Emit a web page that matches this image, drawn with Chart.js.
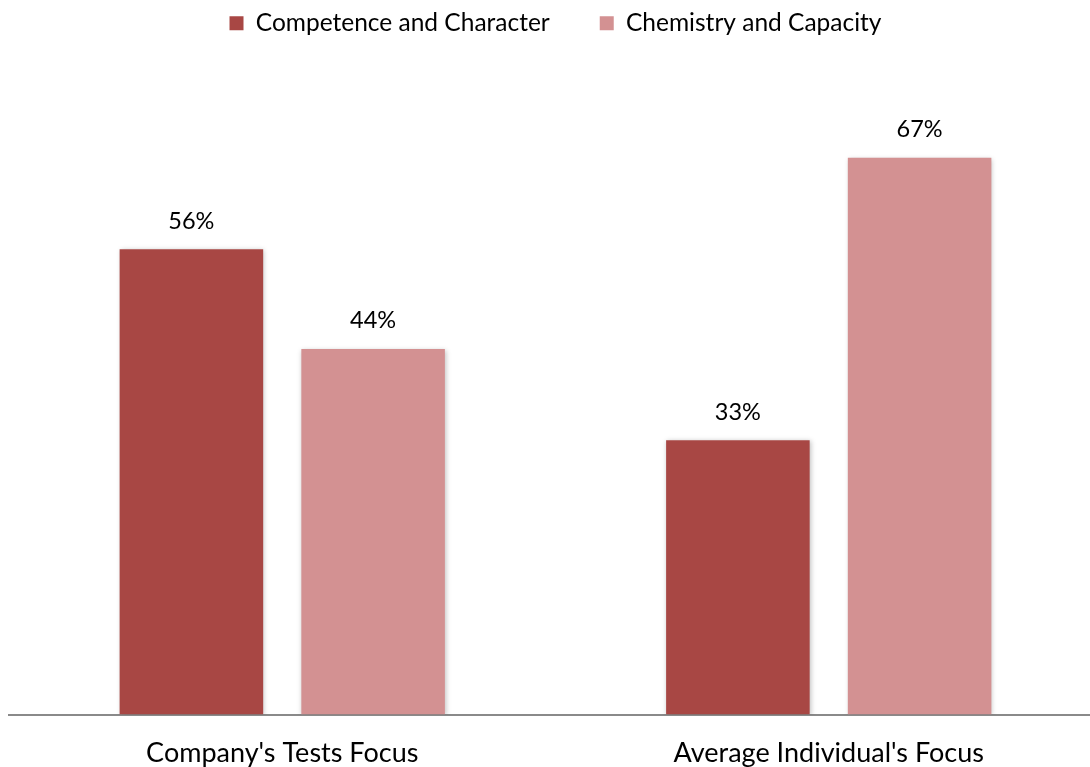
<!DOCTYPE html>
<html>
<head>
<meta charset="utf-8">
<script src="https://cdn.jsdelivr.net/npm/chart.js@4/dist/chart.umd.min.js"></script>
<style>
  html, body { margin: 0; padding: 0; background: #fff; overflow: hidden; }
  #wrap { width: 1104px; height: 767px; }
</style>
</head>
<body>
<div id="wrap"><canvas id="chart"></canvas></div>
<script>
const categories = ["Company's Tests Focus", "Average Individual's Focus"];
const competence = [56, 33];
const chemistry = [44, 67];
const seriesNames = ["Competence and Character", "Chemistry and Capacity"];

const FONT = "Lato, Calibri, 'Open Sans', sans-serif";

// soft shadow behind the bars
const barShadow = {
  id: 'barShadow',
  beforeDatasetsDraw(chart) {
    const ctx = chart.ctx;
    ctx.save();
    ctx.shadowColor = 'rgba(0,0,0,0.25)';
    ctx.shadowBlur = 5;
    ctx.shadowOffsetX = 1;
    ctx.shadowOffsetY = 1;
  },
  afterDatasetsDraw(chart) {
    chart.ctx.restore();
  }
};

// percent labels above each bar
const valueLabels = {
  id: 'valueLabels',
  afterDatasetsDraw(chart) {
    const ctx = chart.ctx;
    ctx.save();
    ctx.font = '23.5px ' + FONT;
    ctx.fillStyle = '#000';
    ctx.textAlign = 'center';
    ctx.textBaseline = 'middle';
    chart.data.datasets.forEach((ds, i) => {
      chart.getDatasetMeta(i).data.forEach((bar, j) => {
        ctx.fillText(ds.data[j] + '%', bar.x, bar.y - 28);
      });
    });
    ctx.restore();
  }
};

new Chart(document.getElementById('chart').getContext('2d'), {
  type: 'bar',
  data: {
    labels: categories,
    datasets: [{
      label: seriesNames[0],
      data: competence,
      backgroundColor: '#A84744',
      borderWidth: 0,
      barPercentage: 0.79,
      categoryPercentage: 0.665
    }, {
      label: seriesNames[1],
      data: chemistry,
      backgroundColor: '#D39192',
      borderWidth: 0,
      barPercentage: 0.79,
      categoryPercentage: 0.665
    }]
  },
  options: {
    responsive: true,
    maintainAspectRatio: false,
    animation: false,
    layout: { padding: { left: 9, right: 2, top: -39, bottom: -24 } },
    plugins: {
      legend: {
        position: 'top',
        labels: {
          boxWidth: 14,
          boxHeight: 14,
          padding: 50,
          color: '#000',
          font: { family: FONT, size: 24.5 }
        }
      },
      tooltip: { enabled: false }
    },
    scales: {
      x: {
        grid: { display: false, drawTicks: false },
        border: { color: '#8a8a8a', width: 2 },
        ticks: { color: '#000', padding: 22, font: { family: FONT, size: 27 } }
      },
      y: {
        display: false,
        min: 0,
        max: 80.5
      }
    }
  },
  plugins: [barShadow, valueLabels]
});
</script>
</body>
</html>
